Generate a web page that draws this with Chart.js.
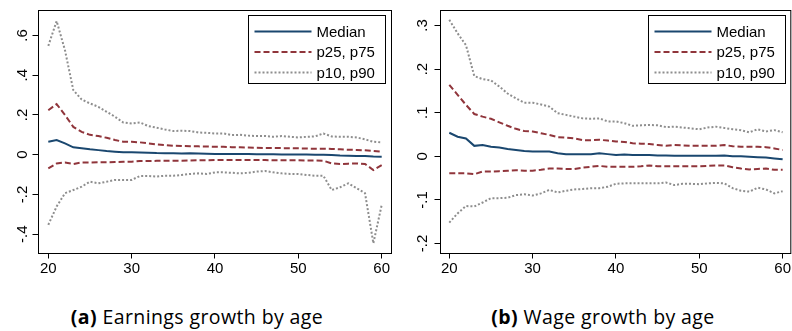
<!DOCTYPE html>
<html>
<head>
<meta charset="utf-8">
<script src="https://cdn.jsdelivr.net/npm/chart.js@4.4.1/dist/chart.umd.min.js"></script>
<style>
  html, body { margin: 0; padding: 0; background: #fff; }
  body { width: 792px; height: 331px; position: relative; overflow: hidden; }
  canvas { position: absolute; top: 0; }
  #earnings { left: 0; }
  #wages { left: 396px; }
  .caption {
    position: absolute; top: 303.5px; width: 396px; text-align: center;
    font-family: "Open Sans", sans-serif; font-size: 19.5px; line-height: 26px;
    letter-spacing: 0.4px; color: #000; white-space: nowrap;
  }
  .caption b { font-weight: 700; }
</style>
</head>
<body>
<canvas id="earnings" width="396" height="285"></canvas>
<canvas id="wages" width="396" height="285"></canvas>
<div class="caption" id="capA" style="left:-1px"></div>
<div class="caption" id="capB" style="left:405px"></div>
<script>
// Age grid
const ages = [20,21,22,23,24,25,26,27,28,29,30,31,32,33,34,35,36,37,38,39,40,
              41,42,43,44,45,46,47,48,49,50,51,52,53,54,55,56,57,58,59,60];

// Panel (a): earnings growth percentiles by age
const earnMedian = [0.065,0.074,0.057,0.037,0.032,0.027,0.023,0.018,0.015,0.012,0.012,
  0.011,0.010,0.008,0.007,0.007,0.006,0.007,0.006,0.005,0.004,
  0.004,0.003,0.003,0.003,0.002,0.002,0.002,0.001,0.001,0.001,
  0.001,0.000,0.000,-0.002,-0.004,-0.005,-0.006,-0.007,-0.009,-0.010];
const earnP75 = [0.224,0.255,0.200,0.140,0.115,0.100,0.094,0.085,0.074,0.065,0.065,
  0.062,0.057,0.052,0.049,0.045,0.044,0.043,0.042,0.041,0.040,
  0.040,0.038,0.037,0.036,0.035,0.034,0.034,0.033,0.033,0.032,
  0.031,0.030,0.030,0.029,0.027,0.025,0.024,0.022,0.019,0.015];
const earnP25 = [-0.069,-0.044,-0.039,-0.047,-0.039,-0.039,-0.038,-0.038,-0.037,-0.036,-0.035,
  -0.032,-0.032,-0.031,-0.031,-0.030,-0.030,-0.029,-0.028,-0.028,-0.027,
  -0.027,-0.027,-0.027,-0.027,-0.027,-0.027,-0.028,-0.028,-0.028,-0.028,
  -0.029,-0.029,-0.030,-0.044,-0.047,-0.045,-0.044,-0.047,-0.077,-0.052];
const earnP90 = [0.548,0.673,0.526,0.325,0.278,0.258,0.241,0.216,0.191,0.162,0.157,
  0.162,0.144,0.136,0.127,0.119,0.121,0.119,0.112,0.110,0.107,
  0.107,0.099,0.100,0.096,0.094,0.094,0.090,0.094,0.090,0.087,
  0.090,0.092,0.107,0.092,0.090,0.090,0.087,0.077,0.065,0.062];
const earnP10 = [-0.353,-0.261,-0.194,-0.178,-0.161,-0.136,-0.144,-0.136,-0.127,-0.127,-0.127,
  -0.107,-0.107,-0.110,-0.106,-0.106,-0.102,-0.097,-0.094,-0.097,-0.089,
  -0.089,-0.091,-0.094,-0.091,-0.085,-0.082,-0.089,-0.094,-0.097,-0.097,
  -0.102,-0.106,-0.106,-0.178,-0.164,-0.144,-0.169,-0.194,-0.446,-0.253];

// Panel (b): wage growth percentiles by age
const wageMedian = [0.054,0.045,0.041,0.024,0.026,0.022,0.020,0.017,0.0145,0.012,0.011,
  0.011,0.011,0.007,0.005,0.005,0.005,0.005,0.007,0.005,0.003,
  0.004,0.003,0.003,0.003,0.002,0.002,0.001,0.001,0.001,0.001,
  0.001,0.001,0.002,0.000,0.000,-0.001,-0.002,-0.003,-0.005,-0.007];
const wageP75 = [0.164,0.141,0.118,0.097,0.091,0.086,0.078,0.070,0.063,0.058,0.057,
  0.053,0.049,0.044,0.043,0.041,0.037,0.037,0.038,0.036,0.034,
  0.033,0.030,0.029,0.028,0.026,0.024,0.026,0.025,0.024,0.024,
  0.024,0.024,0.026,0.023,0.022,0.022,0.022,0.021,0.018,0.0145];
const wageP25 = [-0.039,-0.039,-0.039,-0.041,-0.035,-0.035,-0.034,-0.033,-0.032,-0.033,-0.033,
  -0.031,-0.028,-0.028,-0.029,-0.029,-0.026,-0.024,-0.022,-0.024,-0.024,
  -0.024,-0.024,-0.023,-0.021,-0.023,-0.023,-0.023,-0.023,-0.023,-0.023,
  -0.022,-0.021,-0.021,-0.025,-0.028,-0.030,-0.029,-0.028,-0.031,-0.031];
const wageP90 = [0.313,0.282,0.255,0.184,0.177,0.174,0.160,0.144,0.133,0.123,0.123,
  0.119,0.114,0.099,0.095,0.091,0.087,0.086,0.087,0.080,0.080,
  0.076,0.070,0.071,0.072,0.071,0.067,0.068,0.066,0.064,0.062,
  0.066,0.068,0.065,0.062,0.060,0.055,0.062,0.057,0.060,0.055];
const wageP10 = [-0.152,-0.131,-0.114,-0.115,-0.106,-0.096,-0.096,-0.095,-0.089,-0.087,-0.090,
  -0.085,-0.077,-0.083,-0.079,-0.076,-0.075,-0.073,-0.073,-0.070,-0.063,
  -0.062,-0.062,-0.062,-0.062,-0.062,-0.060,-0.066,-0.063,-0.063,-0.064,
  -0.062,-0.061,-0.062,-0.073,-0.079,-0.081,-0.072,-0.076,-0.085,-0.080];

// Axis ticks
const xTicks = [20, 30, 40, 50, 60];
const earnYTicks = [0.6, 0.4, 0.2, 0, -0.2, -0.4];
const earnYLabels = [".6", ".4", ".2", "0", "-.2", "-.4"];
const wageYTicks = [0.3, 0.2, 0.1, 0, -0.1, -0.2];
const wageYLabels = [".3", ".2", ".1", "0", "-.1", "-.2"];

// Legend entries and captions
const legendLabels = ["Median", "p25, p75", "p10, p90"];
const captionTags = ["(a)", "(b)"];
const captionTexts = ["Earnings growth by age", "Wage growth by age"];

// Line styles
const NAVY = "#1a476f", MAROON = "#90353b", GRAY = "#8e8e8e";
const styles = [
  { color: NAVY, dash: [], width: 2 },
  { color: MAROON, dash: [6, 3], width: 2 },
  { color: GRAY, dash: [2, 2], width: 2 }
];
const TICK_FONT = { family: "'Liberation Sans', Arial, sans-serif", size: 15 };

function series(values, style, label) {
  return {
    label: label,
    data: ages.map((a, i) => ({ x: a, y: values[i] })),
    borderColor: style.color,
    borderDash: style.dash,
    borderWidth: style.width,
    pointRadius: 0,
    fill: false,
    tension: 0
  };
}

const stataFrame = {
  id: "stataFrame",
  afterDatasetsDraw(chart, args, opts) {
    const ctx = chart.ctx, a = chart.chartArea;
    ctx.save();
    // plot region frame
    ctx.strokeStyle = "#000";
    ctx.lineWidth = 1;
    ctx.setLineDash([]);
    ctx.strokeRect(a.left, a.top, a.right - a.left, a.bottom - a.top);

    // rotated y tick labels
    const ys = chart.scales.y;
    ctx.fillStyle = "#000";
    ctx.font = TICK_FONT.size + "px " + TICK_FONT.family;
    ctx.textAlign = "center";
    ctx.textBaseline = "alphabetic";
    opts.yTicks.forEach((v, i) => {
      const py = ys.getPixelForValue(v);
      ctx.save();
      ctx.translate(a.left - opts.labelOffset, py);
      ctx.rotate(-Math.PI / 2);
      ctx.fillText(opts.yLabels[i], 0, 0);
      ctx.restore();
    });

    // legend box
    const bw = 137, bh = 68;
    const bx = Math.round(a.right - opts.legendRight - bw) + 0.5;
    const by = Math.round(a.top + 4);
    ctx.fillStyle = "#fff";
    ctx.fillRect(bx, by, bw, bh);
    ctx.strokeStyle = "#000";
    ctx.lineWidth = 1;
    ctx.strokeRect(bx, by + 0.5, bw, bh);
    const rows = [16.5, 37, 57.5];
    legendLabels.forEach((lab, i) => {
      const st = styles[i];
      const ry = by + rows[i];
      ctx.strokeStyle = st.color;
      ctx.lineWidth = st.width;
      ctx.setLineDash(st.dash);
      ctx.beginPath();
      ctx.moveTo(bx + 6, ry);
      ctx.lineTo(bx + 63, ry);
      ctx.stroke();
      ctx.setLineDash([]);
      ctx.fillStyle = "#000";
      ctx.textAlign = "left";
      ctx.textBaseline = "middle";
      ctx.fillText(lab, bx + 68, ry + 1);
    });
    ctx.restore();
  }
};

function makePanel(id, med, p25, p75, p10, p90, cfg) {
  const datasets = [
    series(p10, styles[2], "p10"),
    series(p90, styles[2], "p90"),
    series(p25, styles[1], "p25"),
    series(p75, styles[1], "p75"),
    series(med, styles[0], "Median")
  ];
  return new Chart(document.getElementById(id), {
    type: "line",
    data: { datasets: datasets },
    options: {
      responsive: false,
      animation: false,
      devicePixelRatio: 1,
      layout: { padding: { left: 0, right: cfg.padRight, top: 10.5, bottom: 0 } },
      plugins: {
        legend: { display: false },
        tooltip: { enabled: false },
        stataFrame: {
          yTicks: cfg.yTicks, yLabels: cfg.yLabels,
          labelOffset: cfg.labelOffset, legendRight: cfg.legendRight
        }
      },
      scales: {
        x: {
          type: "linear",
          min: cfg.xMin, max: cfg.xMax,
          afterBuildTicks: s => { s.ticks = xTicks.map(v => ({ value: v })); },
          afterFit: s => { s.height = 31.5; },
          grid: { display: true, drawOnChartArea: false, drawTicks: true, tickLength: 5, color: "#000", lineWidth: 1 },
          border: { display: false },
          ticks: { color: "#000", font: TICK_FONT, padding: 1, maxRotation: 0, callback: v => String(v) }
        },
        y: {
          type: "linear",
          min: cfg.yMin, max: cfg.yMax,
          afterBuildTicks: s => { s.ticks = cfg.yTicks.map(v => ({ value: v })); },
          afterFit: s => { s.width = cfg.yWidth; },
          grid: { display: true, drawOnChartArea: false, drawTicks: true, tickLength: 6, color: "#000", lineWidth: 1 },
          border: { display: false },
          ticks: { display: false }
        }
      }
    },
    plugins: [stataFrame]
  });
}

makePanel("earnings", earnMedian, earnP25, earnP75, earnP10, earnP90, {
  xMin: 18.824, xMax: 61.176, yMin: -0.4975, yMax: 0.726,
  yTicks: earnYTicks, yLabels: earnYLabels,
  yWidth: 38.5, padRight: 4.5, labelOffset: 11.8, legendRight: 7
});
makePanel("wages", wageMedian, wageP25, wageP75, wageP10, wageP90, {
  xMin: 18.946, xMax: 60.98, yMin: -0.2229, yMax: 0.3344,
  yTicks: wageYTicks, yLabels: wageYLabels,
  yWidth: 44.5, padRight: 0.5, labelOffset: 13.6, legendRight: 5.5
});

document.getElementById("capA").innerHTML = "<b>" + captionTags[0] + "</b> " + captionTexts[0];
document.getElementById("capB").innerHTML = "<b>" + captionTags[1] + "</b> " + captionTexts[1];
</script>
</body>
</html>
